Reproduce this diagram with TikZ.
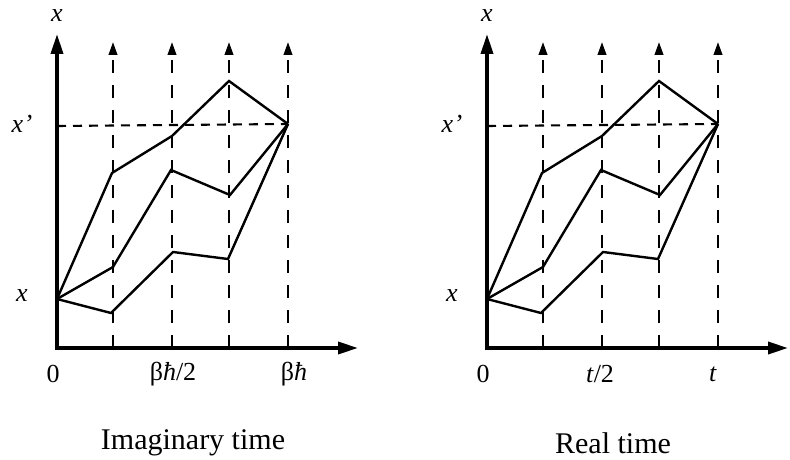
\documentclass[tikz,border=0pt]{standalone}
\usepackage{fontspec}
\setmainfont{Liberation Serif}
\usetikzlibrary{arrows.meta}
\tikzset{
  axisline/.style={line width=3.4pt, -{Triangle[length=20pt,width=12pt]}},
  guideline/.style={line width=2.3pt, dash pattern=on 13pt off 12pt, -{Triangle[length=13pt,width=8.5pt]}},
  levelline/.style={line width=2.1pt, dash pattern=on 9pt off 7pt},
  pathline/.style={line width=2.4pt, line join=miter},
  lbl/.style={font=\fontsize{26}{30}\selectfont, inner sep=0pt},
  caption/.style={font=\fontsize{30}{34}\selectfont, inner sep=0pt},
}
\newcommand\pathpanel[6]{%
  \begin{scope}[xshift=#1]
    \coordinate (#2o) at (57,348);
    \coordinate (#2ytip) at (57,34);
    \coordinate (#2xtip) at (358,348);
    \coordinate (#2s) at (57,299);
    \coordinate (#2e) at (288,124);
    \coordinate (#2lv) at (57,126);
    \foreach \i/\xx in {1/113,2/172,3/229,4/288}{
      \coordinate (#2g\i b) at (\xx,348);
      \coordinate (#2g\i t) at (\xx,42);
    }
    % top path
    \coordinate (#2t1) at (112,173);
    \coordinate (#2t2) at (172,136);
    \coordinate (#2t3) at (229,81);
    % middle path
    \coordinate (#2m1) at (113,267);
    \coordinate (#2m2) at (171,170);
    \coordinate (#2m3) at (230,195);
    % bottom path
    \coordinate (#2b1) at (111,313);
    \coordinate (#2b2) at (173,252);
    \coordinate (#2b3) at (228,259);
    % guides
    \foreach \i in {1,2,3,4}{
      \draw[guideline] (#2g\i b) -- (#2g\i t);
    }
    \draw[levelline] (#2lv) -- (#2e);
    % axes
    \draw[axisline] ([yshift=-1.7pt]#2o) -- (#2ytip);
    \draw[axisline] ([xshift=-1.7pt]#2o) -- (#2xtip);
    % paths
    \draw[pathline] (#2s) -- (#2t1) -- (#2t2) -- (#2t3) -- (#2e);
    \draw[pathline] (#2s) -- (#2m1) -- (#2m2) -- (#2m3) -- (#2e);
    \draw[pathline] (#2s) -- (#2b1) -- (#2b2) -- (#2b3) -- (#2e);
    % labels
    \node[lbl] (#2ly) at (57,16) {\textit{x}};
    \node[lbl] (#2lxp) at (22,124) {\textit{x}\kern0.5pt\textit{’}};
    \node[lbl] (#2lx) at (22,296) {\textit{x}};
    \node[lbl] (#2l0) at (53,374) {0};
    \node[lbl] (#2lmid) at (#3,374) {#4};
    \node[lbl] (#2lend) at (#5,374) {#6};
  \end{scope}}
\begin{document}
\begin{tikzpicture}[x=1pt,y=-1pt]
  \useasboundingbox (0,0) rectangle (790,460);
  \pathpanel{0pt}{L}{173}{β\textit{ħ}/2}{294}{β\textit{ħ}}
  \node[caption] (Lcap) at (193,443) {Imaginary time};
  \pathpanel{430pt}{R}{170}{\textit{t}/2}{283}{\textit{t}}
  \node[caption] (Rcap) at (613,443) {Real time};
\end{tikzpicture}
\end{document}
